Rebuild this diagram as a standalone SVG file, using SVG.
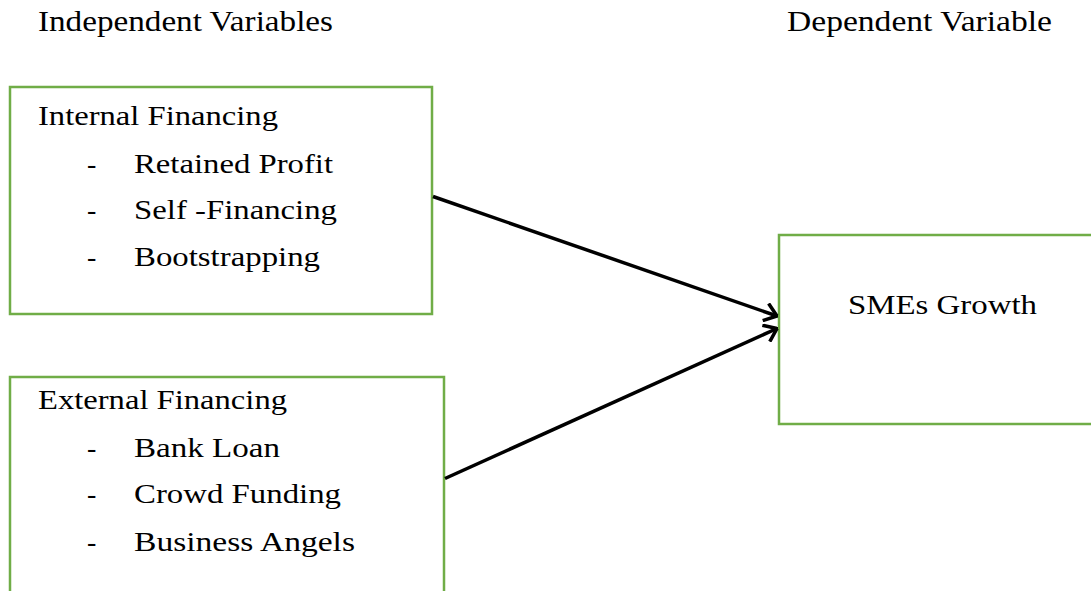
<svg xmlns="http://www.w3.org/2000/svg" width="1091" height="591" viewBox="0 0 1091 591" font-family="Liberation Serif">
<style>
.box{fill:#fff;stroke:#70AD47;stroke-width:2.5}
.t{font-size:28px;fill:#000}
.h{font-size:29px;fill:#000}
.conn{stroke:#000;stroke-width:3.5;fill:none}
</style>
<defs>
<marker id="arr" viewBox="0 0 14 20" refX="13" refY="10" markerWidth="14" markerHeight="20" markerUnits="userSpaceOnUse" orient="auto">
<path d="M1,1 L13,10 L1,19" fill="none" stroke="#000" stroke-width="3.5"/>
</marker>
</defs>
<rect width="1091" height="591" fill="#fff"/>
<text class="h" x="38" y="31" textLength="295" lengthAdjust="spacingAndGlyphs">Independent Variables</text>
<text class="h" x="787" y="31" textLength="265" lengthAdjust="spacingAndGlyphs">Dependent Variable</text>
<g id="internal">
<rect class="box" x="10" y="87" width="422" height="227"/>
<text class="t" x="38" y="124.5" textLength="240" lengthAdjust="spacingAndGlyphs">Internal Financing</text>
<text class="t" x="87" y="172.5">-</text>
<text class="t" x="134" y="172.5" textLength="199" lengthAdjust="spacingAndGlyphs">Retained Profit</text>
<text class="t" x="87" y="219">-</text>
<text class="t" x="134" y="219" textLength="203" lengthAdjust="spacingAndGlyphs">Self -Financing</text>
<text class="t" x="87" y="265.5">-</text>
<text class="t" x="134" y="265.5" textLength="186" lengthAdjust="spacingAndGlyphs">Bootstrapping</text>
</g>
<g id="external">
<rect class="box" x="10" y="377" width="434" height="230"/>
<text class="t" x="38" y="409" textLength="249" lengthAdjust="spacingAndGlyphs">External Financing</text>
<text class="t" x="87" y="456.5">-</text>
<text class="t" x="134" y="456.5" textLength="146" lengthAdjust="spacingAndGlyphs">Bank Loan</text>
<text class="t" x="87" y="503">-</text>
<text class="t" x="134" y="503" textLength="207" lengthAdjust="spacingAndGlyphs">Crowd Funding</text>
<text class="t" x="87" y="551">-</text>
<text class="t" x="134" y="551" textLength="221" lengthAdjust="spacingAndGlyphs">Business Angels</text>
</g>
<g id="smes">
<rect class="box" x="779" y="235" width="330" height="189"/>
<text class="t" x="848" y="314" textLength="189" lengthAdjust="spacingAndGlyphs">SMEs Growth</text>
</g>
<g id="connectors">
<line class="conn" x1="433" y1="196.5" x2="777" y2="316" marker-end="url(#arr)"/>
<line class="conn" x1="445" y1="478.5" x2="777" y2="328.5" marker-end="url(#arr)"/>
</g>
</svg>
